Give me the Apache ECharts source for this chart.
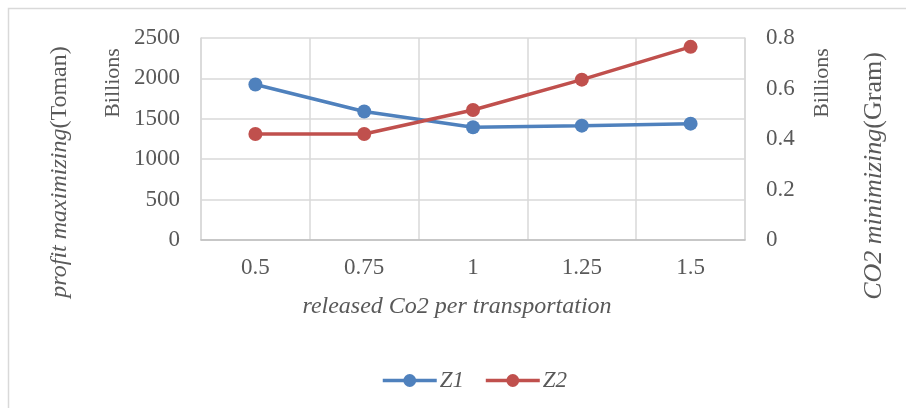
<!DOCTYPE html>
<html>
<head>
<meta charset="utf-8">
<script src="https://cdn.jsdelivr.net/npm/echarts@6/dist/echarts.min.js"></script>
<style>
  html, body { margin: 0; padding: 0; background: #fff; }
  #chart { width: 906px; height: 408px; }
</style>
</head>
<body>
<div id="chart"></div>
<script>
// Emission cap per transportation on the x axis
const categories = ['0.5', '0.75', '1', '1.25', '1.5'];
// Z1: profit (billions of Toman), left axis
const z1 = [1925, 1590, 1395, 1415, 1440];
// Z2: CO2 emitted (billions of grams), right axis
const z2 = [0.42, 0.42, 0.515, 0.635, 0.765];

const TEXT = '#595959';
const FONT = '"Liberation Serif", "Times New Roman", serif';
const GRID = '#d9d9d9';

const chart = echarts.init(document.getElementById('chart'));
chart.setOption({
  animation: false,
  backgroundColor: '#fff',
  textStyle: { fontFamily: FONT, color: TEXT },
  grid: { left: 201, right: 161, top: 38, bottom: 168 },
  xAxis: {
    type: 'category',
    data: categories,
    boundaryGap: true,
    axisLine: { lineStyle: { color: '#bfbfbf', width: 1.5 } },
    axisTick: { show: false },
    axisLabel: { color: TEXT, fontFamily: FONT, fontSize: 23, margin: 16 },
    splitLine: { show: true, lineStyle: { color: GRID, width: 1.5 } }
  },
  yAxis: [
    {
      type: 'value', min: 0, max: 2500, interval: 500,
      axisLine: { show: true, lineStyle: { color: GRID, width: 1.5 } },
      axisTick: { show: false },
      axisLabel: { color: TEXT, fontFamily: FONT, fontSize: 23, margin: 21,
                   formatter: v => String(v) },
      splitLine: { lineStyle: { color: GRID, width: 1.5 } }
    },
    {
      type: 'value', min: 0, max: 0.8, interval: 0.2,
      position: 'right',
      axisLine: { show: true, lineStyle: { color: GRID, width: 1.5 } },
      axisTick: { show: false },
      axisLabel: { color: TEXT, fontFamily: FONT, fontSize: 23, margin: 21,
                   formatter: v => String(Math.round(v * 10) / 10) },
      splitLine: { show: false }
    }
  ],
  legend: {
    left: 376, top: 364,
    itemWidth: 54, itemHeight: 16, itemGap: 20,
    lineStyle: { width: 3.5 },
    textStyle: { color: TEXT, fontFamily: FONT, fontSize: 23, fontStyle: 'italic', padding: [0, 0, 0, -2] },
    data: ['Z1', 'Z2']
  },
  series: [
    {
      name: 'Z1', type: 'line', data: z1, yAxisIndex: 0,
      symbol: 'circle', symbolSize: 14,
      itemStyle: { color: '#4f81bd' },
      lineStyle: { color: '#4f81bd', width: 3.5 }
    },
    {
      name: 'Z2', type: 'line', data: z2, yAxisIndex: 1,
      symbol: 'circle', symbolSize: 14,
      itemStyle: { color: '#c0504d' },
      lineStyle: { color: '#c0504d', width: 3.5 }
    }
  ],
  graphic: [
    {
      type: 'rect', silent: true,
      shape: { x: 8.5, y: 8.5, width: 1000, height: 500 },
      style: { fill: null, stroke: '#d9d9d9', lineWidth: 1.5 }
    },
    {
      type: 'text', x: 60, y: 172, rotation: Math.PI / 2,
      style: {
        text: '{i|profit maximizing}{n|(Toman)}',
        align: 'center', verticalAlign: 'middle',
        rich: {
          i: { fontFamily: FONT, fontSize: 24, fontStyle: 'italic', fill: TEXT },
          n: { fontFamily: FONT, fontSize: 24, fill: TEXT }
        }
      }
    },
    {
      type: 'text', x: 113, y: 83, rotation: Math.PI / 2,
      style: { text: 'Billions', align: 'center', verticalAlign: 'middle',
               font: '22px ' + FONT, fill: TEXT }
    },
    {
      type: 'text', x: 822, y: 83, rotation: Math.PI / 2,
      style: { text: 'Billions', align: 'center', verticalAlign: 'middle',
               font: '22px ' + FONT, fill: TEXT }
    },
    {
      type: 'text', x: 874, y: 176, rotation: Math.PI / 2,
      style: {
        text: '{i|CO2 minimizing}{n|(Gram)}',
        align: 'center', verticalAlign: 'middle',
        rich: {
          i: { fontFamily: FONT, fontSize: 26, fontStyle: 'italic', fill: TEXT },
          n: { fontFamily: FONT, fontSize: 26, fill: TEXT }
        }
      }
    },
    {
      type: 'text', x: 457, y: 307,
      style: { text: 'released Co2 per transportation', align: 'center', verticalAlign: 'middle',
               font: 'italic 24px ' + FONT, fill: TEXT }
    }
  ]
});
</script>
</body>
</html>
